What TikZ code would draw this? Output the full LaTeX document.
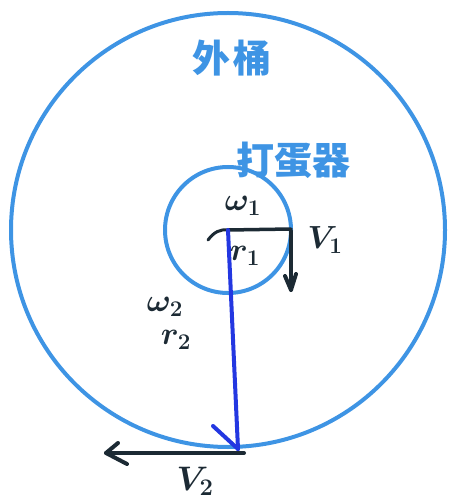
\RequirePackage{fix-cm}
\documentclass[tikz,border=0pt]{standalone}
\usepackage{fontspec}
\newfontfamily\cjk{Noto Sans CJK SC}
\setmainfont{DejaVu Sans}
\definecolor{lblue}{RGB}{62,148,228}
\definecolor{dblue}{RGB}{35,55,225}
\definecolor{ink}{RGB}{28,42,52}
\begin{document}
\begin{tikzpicture}[x=1pt,y=-1pt,
  ring/.style={draw=lblue,line width=4pt},
  inkline/.style={draw=ink,line width=4pt,line cap=round,line join=round},
  lab/.style={text=ink,font=\fontsize{32}{32}\selectfont\boldmath,inner sep=0pt},
  cn/.style={text=lblue,font=\cjk\bfseries\fontsize{38}{38}\selectfont,inner sep=0pt}]
\useasboundingbox (0,0) rectangle (449,502);
\coordinate (C) at (228,230);
\draw[ring] (C) circle (217);
\draw[ring] (C) circle (63);
% radius r1
\coordinate (R1) at (291,229);
\draw[inkline,line width=3.5pt] (C) -- (R1);
\draw[inkline,line width=3pt] (208,240) .. controls (214,232) and (220,229) .. (C);
% r2 line
\coordinate (P2) at (238,449);
\draw[draw=dblue,line width=4pt,line cap=round] (C) -- (P2);
\coordinate (B2) at (213,426);
\draw[draw=dblue,line width=4pt,line cap=round] (B2) -- (P2);
% V1 arrow
\coordinate (V1a) at (291,231);
\coordinate (V1b) at (291,290);
\draw[inkline] (V1a) -- (V1b);
\draw[inkline] (285,276) -- (V1b) -- (296,274);
% V2 arrow
\coordinate (V2a) at (244,453);
\coordinate (V2b) at (106,453);
\draw[inkline] (V2a) -- (V2b);
\draw[inkline] (118,443) -- (V2b) -- (127,464);
% labels
\node[cn] (outer) at (232,58) {外\hspace{4pt}桶};
\node[cn] (beater) at (293,160) {打蛋器};
\node[lab] (w1) at (243,206) {$\omega_1$};
\node[lab] (r1) at (245,256) {$r_1$};
\node[lab] (v1) at (325,240) {$V_1$};
\node[lab] (w2) at (165,307) {$\omega_2$};
\node[lab] (r2) at (176,340) {$r_2$};
\node[lab,font=\fontsize{34}{34}\selectfont\boldmath] (v2) at (195,481) {$V_2$};
\end{tikzpicture}
\end{document}
